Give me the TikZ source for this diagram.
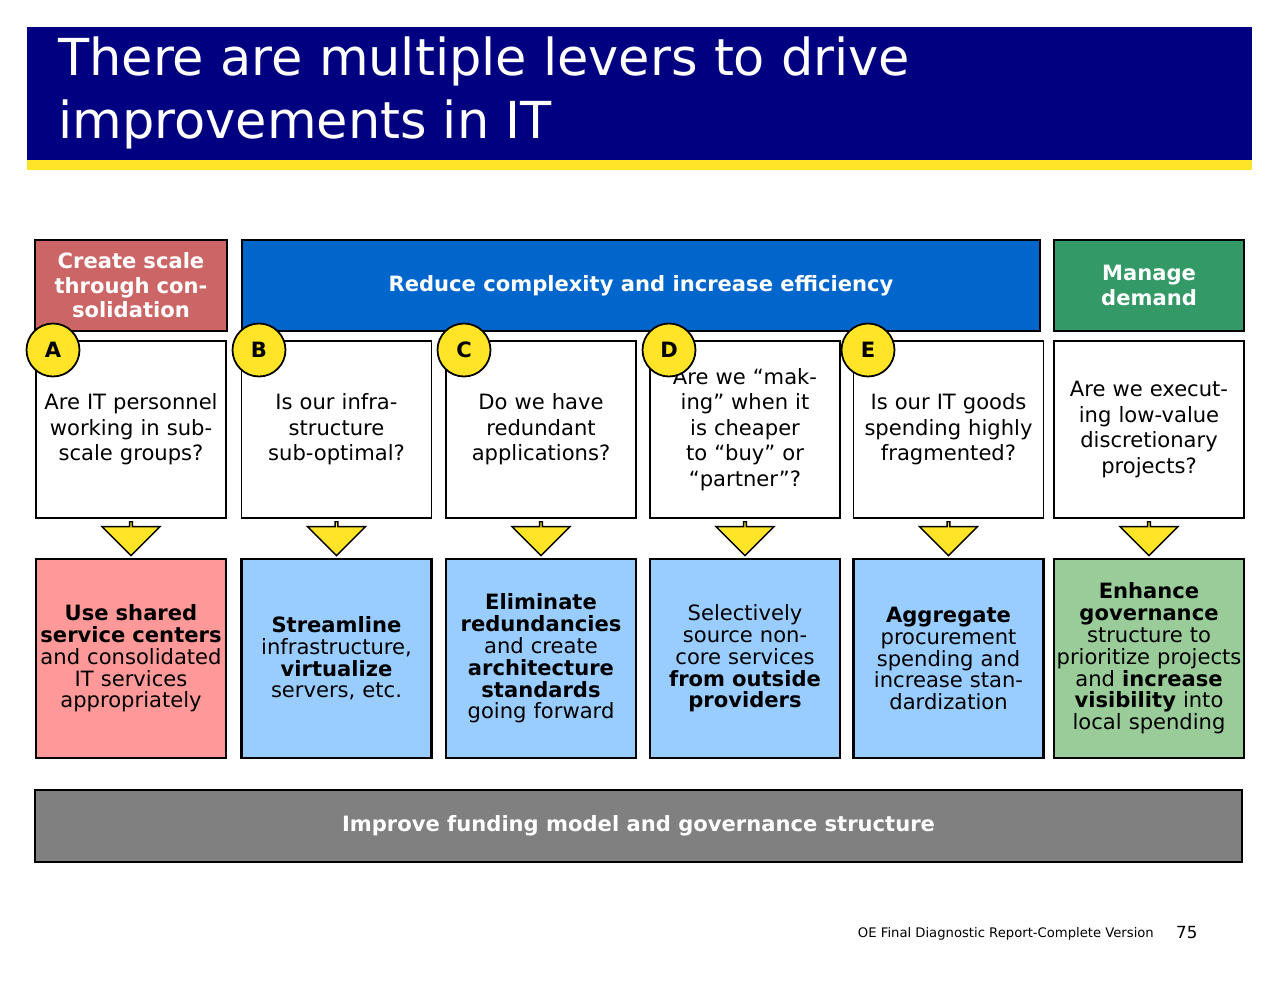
\documentclass[tikz,border=0pt]{standalone}
\usepackage{fontspec}
\setmainfont{DejaVu Sans}
\usetikzlibrary{positioning,shapes.arrows}
\definecolor{oenavy}{RGB}{0,0,128}
\definecolor{oeyellow}{RGB}{255,228,40}
\definecolor{oered}{RGB}{204,102,102}
\definecolor{oeblue}{RGB}{0,102,204}
\definecolor{oegreen}{RGB}{51,153,102}
\definecolor{oepink}{RGB}{255,153,153}
\definecolor{oelightblue}{RGB}{153,204,255}
\definecolor{oelightgreen}{RGB}{153,204,153}
\definecolor{oegrey}{RGB}{128,128,128}
\tikzstyle{header} = [rectangle, draw=black, line width=1.2pt, minimum height=1.82cm, text centered, text=white, font=\fontsize{12}{14}\selectfont\bfseries, inner sep=2pt]
\tikzstyle{question} = [rectangle, draw=black, line width=1pt, fill=white, minimum width=3.8cm, minimum height=3.54cm, text width=3.6cm, align=center, font=\fontsize{12}{14.5}\selectfont, inner sep=1pt]
\tikzstyle{lever} = [rectangle, draw=black, line width=1.2pt, minimum width=3.8cm, minimum height=3.98cm, text width=3.7cm, align=center, font=\fontsize{12}{12.4}\selectfont, inner sep=1pt]
\tikzstyle{badge} = [circle, draw=black, line width=1pt, fill=oeyellow, minimum size=1.06cm, inner sep=0pt, font=\fontsize{12}{14}\selectfont\bfseries]
\tikzstyle{downarrow} = [single arrow, draw=black, fill=oeyellow, line width=0.8pt, shape border rotate=270, minimum width=1.16cm, minimum height=0.68cm, single arrow head extend=0.28cm, inner sep=0pt]
\begin{document}
\begin{tikzpicture}[x=0.02cm, y=-0.02cm]
\useasboundingbox (0,0) rectangle (1280,990);
% Title
\fill[oenavy] (27,27) rectangle (1252,160);
\fill[oeyellow] (27,160) rectangle (1252,170);
\node (title) [anchor=north west, align=left, text=white, font=\fontsize{29}{36}\selectfont, inner sep=0pt] at (58,36) {There are multiple levers to drive\\improvements in IT};

% Headers
\node (hscale) [header, fill=oered, minimum width=3.8cm, text width=3.7cm] at (131,285.5) {Create scale through consolidation};
\node (hreduce) [header, fill=oeblue, minimum width=15.96cm] at (641,285.5) {Reduce complexity and increase efficiency};
\node (hdemand) [header, fill=oegreen, minimum width=3.8cm, text width=3.6cm] at (1149,285.5) {Manage demand};

% Questions
\node (q1) [question] at (131,429.5) {Are IT personnel working in sub-scale groups?};
\node (q2) [question] at (336.5,429.5) {Is our infra-structure sub-optimal?};
\node (q3) [question] at (541,429.5) {Do we have redundant applications?};
\node (q4) [question] at (745,429.5) {Are we “making” when it is cheaper to “buy” or “partner”?};
\node (q5) [question] at (948.5,429.5) {Is our IT goods spending highly fragmented?\\[1.2em]};
\node (q6) [question] at (1149,429.5) {Are we executing low-value discretionary projects?};

% Badges
\node (ba) [badge] at (53,350) {A};
\node (bb) [badge] at (259,350) {B};
\node (bc) [badge] at (464,350) {C};
\node (bd) [badge] at (669,350) {D};
\node (be) [badge] at (868,350) {E};

% Arrows
\foreach \n/\x in {1/131,2/336.5,3/541,4/745,5/948.5,6/1149}
  \node (arr\n) [downarrow] at (\x,538) {};

% Levers
\node (l1) [lever, fill=oepink] at (131,658.5) {\textbf{Use shared service centers} and consolidated IT services appropriately};
\node (l2) [lever, fill=oelightblue] at (336.5,658.5) {\textbf{Streamline} infrastructure, \textbf{virtualize} servers, etc.\\[1.3em]};
\node (l3) [lever, fill=oelightblue] at (541,658.5) {\textbf{Eliminate redundancies} and create \textbf{architecture standards} going forward};
\node (l4) [lever, fill=oelightblue] at (745,658.5) {Selectively source non-core services \textbf{from outside providers}};
\node (l5) [lever, fill=oelightblue] at (948.5,658.5) {\textbf{Aggregate} procurement spending and increase standardization};
\node (l6) [lever, fill=oelightgreen] at (1149,658.5) {\textbf{Enhance governance} structure to prioritize projects and \textbf{increase visibility} into local spending};

% Bottom bar
\node (funding) [header, fill=oegrey, minimum width=24.14cm, minimum height=1.44cm] at (638.5,826) {Improve funding model and governance structure};

% Footer
\node (footer) [anchor=east, font=\fontsize{7.5}{9}\selectfont] at (1160,934) {OE Final Diagnostic Report-Complete Version};
\node (page) [anchor=west, font=\fontsize{9.5}{11}\selectfont] at (1170,933) {75};
\end{tikzpicture}
\end{document}
